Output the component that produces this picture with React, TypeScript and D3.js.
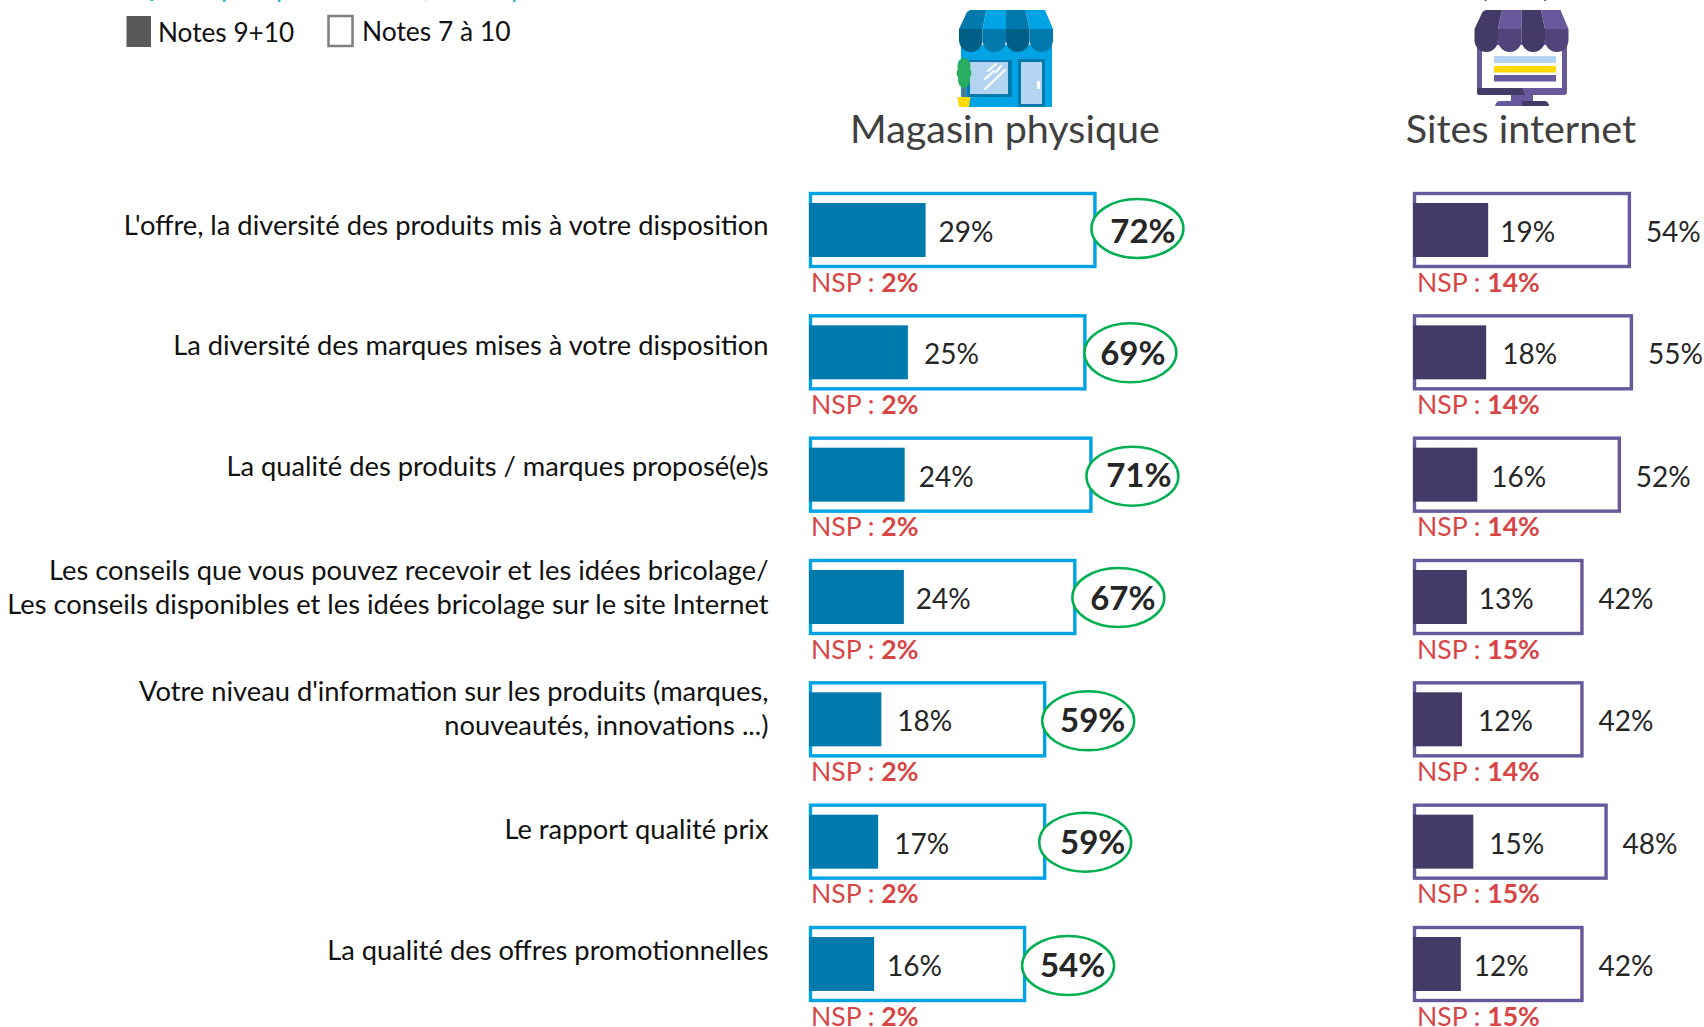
import React from "react";
import * as d3 from "d3";

const labels: string[][] = [
  ["L'offre, la diversité des produits mis à votre disposition"],
  ["La diversité des marques mises à votre disposition"],
  ["La qualité des produits / marques proposé(e)s"],
  ["Les conseils que vous pouvez recevoir et les idées bricolage/", "Les conseils disponibles et les idées bricolage sur le site Internet"],
  ["Votre niveau d'information sur les produits (marques,", "nouveautés, innovations ...)"],
  ["Le rapport qualité prix"],
  ["La qualité des offres promotionnelles"],
];
// Values; the printed labels are these values rounded.
const storeTop2 = [29, 24.6, 23.8, 23.6, 18, 17.2, 16.2];
const storeTop4 = [71.5, 69, 70.5, 66.5, 59, 59, 54];
const storeNsp = [2, 2, 2, 2, 2, 2, 2];
const webTop2 = [18.7, 18.2, 16, 13.4, 12.2, 15, 11.9];
const webTop4 = [54.2, 54.7, 51.7, 42.4, 42.4, 48.4, 42.4];
const webNsp = [14, 14, 14, 15, 14, 15, 15];
const cutOffGlyphs: [string, number][] = [["Q", 133], ["p", 221], ["p", 276], [",", 423], ["p", 511]];

const FONT = "Lato, Carlito, 'Open Sans', sans-serif";
const rowIndex = d3.range(labels.length);
const yScale = d3.scaleLinear().domain([0, 6]).range([192, 926]);
const widthScale = d3.scaleLinear().domain([0, 100]).range([0, 402]);
const labelCenters = [225, 344.5, 466, 587, 708, 829, 950];
const storeLabelNudge = [-1, 2, 0, -2, 2, 2, -1];
const webLabelNudge = [-2, 2, 0, -2, 2, 2, -1];
const ellipseNudge = [-1, 2, -2, 0, 0, -3, 0];
const ellipseYNudge = [-2, 0, 1, 0, 1, 0, 1];

function Awning({ cx, colors }: { cx: number; colors: string[] }) {
  const w = 23.5;
  const left = cx - 2 * w;
  return (
    <g>
      {[0, 1, 2, 3].map((i) => {
        const x0 = left + i * w;
        const tx0 = cx + (i - 2) * 19.5;
        const tx1 = tx0 + 19.5;
        return (
          <path
            key={i}
            fill={i % 2 === 0 ? colors[0] : colors[1]}
            d={`M${tx0},${i === 0 ? 12 : 10} L${i === 0 ? tx0 + 3 : tx0},10 L${tx1},10 L${x0 + w},29 L${x0},29 Z`}
          />
        );
      })}
      {[0, 1, 2, 3].map((i) => {
        const x0 = left + i * w;
        return (
          <path
            key={i}
            fill={i % 2 === 0 ? colors[2] : colors[3]}
            d={`M${x0},29 H${x0 + w} V40 A${w / 2},${12} 0 0 1 ${x0},40 Z`}
          />
        );
      })}
    </g>
  );
}

function StoreIcon() {
  return (
    <g>
      <rect x={961} y={45} width={91} height={62} fill="#00A3E4" />
      <Awning cx={1006} colors={["#0079AD", "#00A3E4", "#005F87", "#0079AD"]} />
      <rect x={967} y={60} width={45} height={37} fill="#0079AD" />
      <rect x={970} y={62} width={38} height={32} fill="#B3D4F0" />
      <rect x={1018} y={59} width={27} height={48} fill="#0079AD" />
      <rect x={1021} y={62} width={21} height={42} fill="#B3D4F0" />
      <rect x={1037} y={81} width={3} height={8} rx={1} fill="#fff" />
      <g stroke="#fff" strokeWidth={2} strokeLinecap="round">
        <line x1={985} y1={89} x2={1005} y2={70} />
        <line x1={985} y1={79} x2={994} y2={71} />
        <line x1={988} y1={71} x2={996} y2={64} />
        <line x1={996} y1={72} x2={1001} y2={66} />
      </g>
      <rect x={962.5} y={85} width={3} height={13} fill="#6B6B6B" />
      <ellipse cx={964} cy={66} rx={6.5} ry={8} fill="#27AE60" />
      <ellipse cx={964} cy={73} rx={7.5} ry={7} fill="#27AE60" />
      <ellipse cx={964} cy={80} rx={6} ry={8} fill="#27AE60" />
      <path d="M957.5,97 H970.5 L969,107 H959 Z" fill="#FFD900" />
    </g>
  );
}

function WebIcon() {
  return (
    <g>
      <rect x={1477} y={42} width={90} height={53} rx={3} fill="#67599B" />
      <path d="M1477,88 H1522 L1525,95 H1480 Q1477,95 1477,92 Z" fill="#433A68" />
      <rect x={1482} y={45} width={80} height={43} fill="#fff" />
      <Awning cx={1521.5} colors={["#433A68", "#67599B", "#433A68", "#52447A"]} />
      <rect x={1494} y={56} width={62} height={7} fill="#B3D4F0" />
      <rect x={1494} y={66} width={62} height={6.5} fill="#FFD900" />
      <rect x={1494} y={75} width={62} height={6.5} fill="#67599B" />
      <rect x={1511} y={95} width={22} height={7} fill="#67599B" />
      <path d="M1495,106 Q1496,101 1500,101 H1544 Q1548,101 1549,106 Z" fill="#67599B" />
      <path d="M1522,106 V101 H1544 Q1548,101 1549,106 Z" fill="#433A68" />
    </g>
  );
}

function Panel({ x0, top2, top4, nsp, stroke, fill, circled, nudge }: {
  x0: number; top2: number[]; top4: number[]; nsp: number[]; stroke: string; fill: string; circled: boolean; nudge: number[];
}) {
  return (
    <g>
      {rowIndex.map((i) => {
        const y = yScale(i);
        const outer = widthScale(top4[i]);
        const inner = widthScale(top2[i]);
        return (
          <g key={i}>
            <rect x={x0 + 1.5} y={y + 1.5} width={outer - 3} height={73} fill="#fff" stroke={stroke} strokeWidth={3.4} />
            <rect x={x0} y={y + 11} width={inner} height={54} fill={fill} />
            <text x={x0 + inner + 14 + nudge[i]} y={y + 50} fontSize={28} fill="#262626" fontFamily={FONT}>{Math.round(top2[i])}%</text>
            {circled ? (
              <g>
                <ellipse cx={x0 + outer + 42 + ellipseNudge[i]} cy={y + 38.5 + ellipseYNudge[i]} rx={46} ry={29.5} fill="#fff" stroke="#00B050" strokeWidth={2.5} />
                <text x={x0 + outer + 46.5} y={y + 50.5} fontSize={33} fontWeight={700} textAnchor="middle" fill="#262626" fontFamily={FONT}>{Math.round(top4[i])}%</text>
              </g>
            ) : (
              <text x={x0 + outer + 15} y={y + 50} fontSize={28} fill="#262626" fontFamily={FONT}>{Math.round(top4[i])}%</text>
            )}
            <text x={x0 + (circled ? 2 : 4)} y={y + 99.5} fontSize={26.6} fill="#D84545" fontFamily={FONT}>
              NSP : <tspan fontWeight={700}>{nsp[i]}%</tspan>
            </text>
          </g>
        );
      })}
    </g>
  );
}

export default function App() {
  return (
    <svg width={1704} height={1027} viewBox="0 0 1704 1027" style={{ position: "absolute", left: 0, top: 0, background: "#fff" }}>
      {cutOffGlyphs.map(([g, x], i) => (
        <text key={i} x={x} y={-3} fontSize={26} fill="#1FB5C5" fontFamily={FONT}>{g}</text>
      ))}
      <text x={1480} y={-3} fontSize={28} fill="#404040" fontFamily={FONT}>(</text>
      <text x={1543} y={-3} fontSize={28} fill="#404040" fontFamily={FONT}>)</text>

      <rect x={126.5} y={16} width={24.5} height={31} fill="#595959" />
      <text x={158} y={42} fontSize={26.2} fill="#111" fontFamily={FONT}>Notes 9+10</text>
      <rect x={328.5} y={16} width={24} height={30} fill="#fff" stroke="#7F7F7F" strokeWidth={2.5} />
      <text x={362} y={41} fontSize={26.4} fill="#111" fontFamily={FONT}>Notes 7 à 10</text>

      <StoreIcon />
      <WebIcon />
      <text x={1005} y={143} fontSize={39.5} textAnchor="middle" fill="#404040" fontFamily={FONT}>Magasin physique</text>
      <text x={1521} y={143} fontSize={39.5} textAnchor="middle" fill="#404040" fontFamily={FONT}>Sites internet</text>

      {labels.map((lines, i) => (
        <g key={i}>
          {lines.map((line, j) => (
            <text
              key={j}
              x={768.5}
              y={labelCenters[i] + 10 + (j - (lines.length - 1) / 2) * 34.5}
              fontSize={27.3}
              textAnchor="end"
              fill="#111"
              fontFamily={FONT}
            >{line}</text>
          ))}
        </g>
      ))}

      <Panel x0={809} top2={storeTop2} top4={storeTop4} nsp={storeNsp} stroke="#00A3E4" fill="#007AAD" circled nudge={storeLabelNudge} />
      <Panel x0={1413} top2={webTop2} top4={webTop4} nsp={webNsp} stroke="#67599B" fill="#433A68" circled={false} nudge={webLabelNudge} />
    </svg>
  );
}
